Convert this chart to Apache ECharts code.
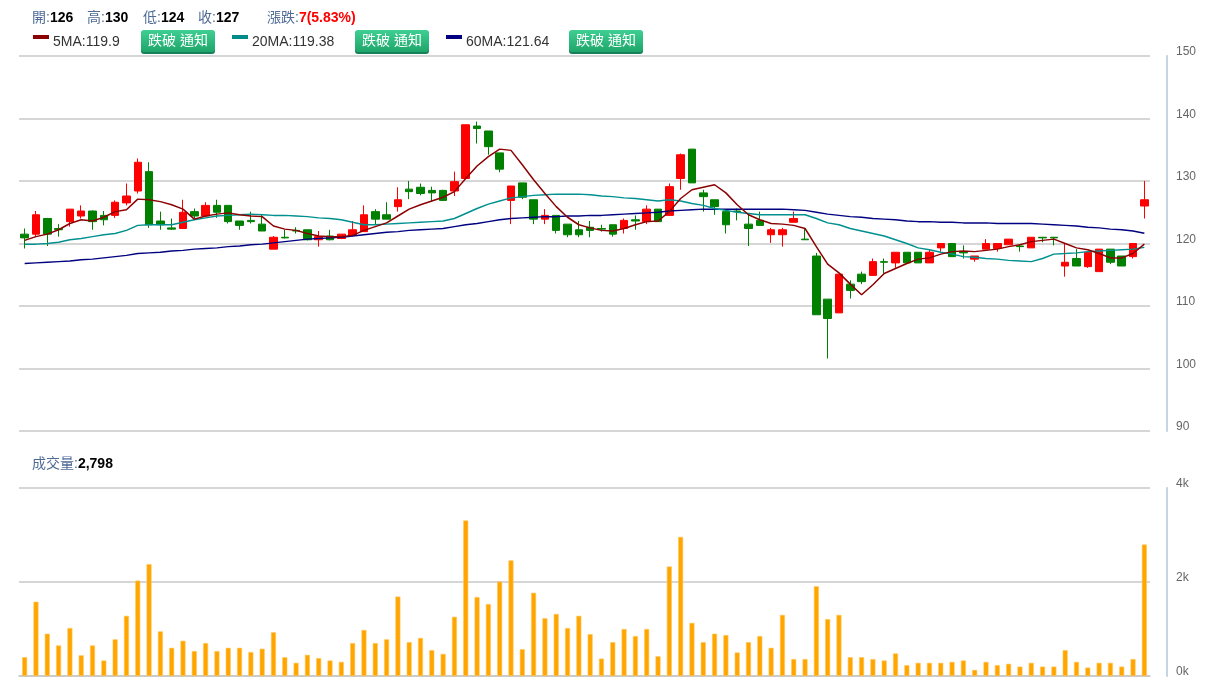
<!DOCTYPE html>
<html>
<head>
<meta charset="utf-8">
<script src="https://cdn.jsdelivr.net/npm/echarts@6/dist/echarts.min.js"></script>
<style>
html,body{margin:0;padding:0;background:#fff;}
#chart{width:1206px;height:688px;}
</style>
</head>
<body>
<div id="chart"></div>
<script>
// ---- data ----
const opens  = [121.5,121.5,124.0,122.4,123.5,124.4,125.2,124.5,124.5,126.5,
                128.4,131.5,123.6,122.5,122.4,125.1,124.4,126.1,126.1,123.6,
                123.7,123.1,119.1,121.0,122.1,122.2,120.6,121.2,120.8,121.3,
                121.9,125.1,124.6,125.9,128.7,129.0,128.5,128.5,128.4,130.4,
                138.8,138.0,134.5,126.9,129.7,127.0,123.9,124.5,123.1,122.2,
                122.6,122.4,123.0,122.4,123.8,123.5,125.5,124.5,130.4,135.1,
                128.1,127.0,125.1,125.2,123.1,123.7,121.4,121.4,123.4,120.7,
                118.0,111.1,108.9,113.5,115.1,114.9,117.1,116.9,118.6,118.6,
                116.9,119.3,120.0,118.6,117.5,119.1,119.2,119.8,119.6,119.3,
                121.0,121.0,116.4,117.6,116.3,115.5,119.1,118.0,117.9,126.0];
const closes = [120.9,124.6,121.5,122.2,125.5,125.2,123.5,123.8,126.6,127.6,
                133.0,123.0,123.0,122.3,125.0,124.4,126.1,125.0,123.5,122.9,
                123.5,122.0,121.0,120.9,122.0,120.6,121.1,120.6,121.5,122.2,
                124.6,123.9,123.9,127.0,128.3,128.0,128.1,126.9,129.9,139.0,
                138.4,135.5,131.9,129.2,127.4,123.9,124.5,122.1,121.4,121.4,
                122.1,122.3,121.5,123.7,123.6,125.5,123.5,129.1,134.2,129.7,
                127.5,125.9,123.0,125.1,122.4,122.9,122.2,122.2,124.0,120.6,
                108.6,108.0,115.1,112.5,113.9,117.1,117.0,118.6,116.9,116.9,
                118.6,120.0,117.9,118.5,118.0,120.0,120.0,120.7,119.5,121.0,
                120.9,120.9,117.0,116.4,118.6,119.1,117.0,116.4,120.0,127.0];
const lows   = [119.2,121.1,119.6,121.1,122.7,124.0,122.2,122.9,124.1,126.1,
                128.0,122.5,122.2,122.2,122.4,124.0,124.2,124.1,123.2,122.2,
                123.2,122.0,119.1,120.8,121.6,120.5,119.5,120.5,120.7,121.1,
                121.9,123.1,123.9,125.1,127.1,127.7,126.7,126.8,127.6,130.4,
                136.0,134.2,131.4,123.1,127.1,123.1,123.1,121.6,121.0,121.0,
                121.0,121.9,121.1,121.6,122.2,123.1,123.5,124.4,128.6,129.7,
                125.1,124.6,121.6,123.7,119.6,122.8,120.1,119.5,123.4,120.6,
                108.6,101.6,108.9,111.2,113.5,114.9,115.2,116.1,116.9,116.9,
                116.9,118.7,117.9,117.6,117.1,119.1,118.7,119.8,118.7,119.3,
                120.2,119.7,114.7,116.4,116.1,115.5,116.7,116.4,117.6,124.0];
const highs  = [122.4,125.2,124.1,123.1,125.5,126.1,125.3,125.2,126.9,129.6,
                133.6,133.0,125.1,124.0,127.0,125.6,126.6,127.0,126.1,123.6,
                125.1,124.6,121.2,122.2,122.6,122.2,122.0,122.2,121.5,123.6,
                126.1,125.5,126.6,129.0,130.0,129.6,129.1,128.6,131.5,139.0,
                139.5,138.0,134.5,129.2,129.7,127.0,125.5,124.5,123.1,123.6,
                123.6,123.0,123.0,124.0,124.5,126.1,125.5,129.6,134.4,135.1,
                128.6,127.0,125.1,125.6,124.7,125.1,122.5,122.5,125.1,122.4,
                118.5,111.1,115.1,114.1,115.5,117.6,117.6,118.6,118.6,118.6,
                119.1,120.0,120.0,119.7,118.0,120.7,120.0,120.7,119.9,121.0,
                121.0,121.0,120.0,119.1,118.6,119.1,119.1,118.0,120.0,130.0];
const volumes = [400,1580,900,650,1020,440,650,330,780,1280,
                 2030,2380,950,600,750,530,700,530,600,600,
                 510,580,930,400,280,450,380,330,300,700,
                 980,700,780,1690,720,810,550,470,1260,3310,
                 1680,1530,2010,2460,570,1770,1230,1320,1020,1280,
                 890,370,720,1000,850,1000,420,2330,2960,1130,
                 720,900,870,500,720,850,600,1300,360,360,
                 1910,1210,1300,400,400,360,330,480,230,280,
                 280,280,300,330,130,300,230,260,200,280,
                 200,200,550,300,180,280,280,200,360,2798];
const ma5 = [120.5,121.1,121.5,122.2,123.2,123.8,123.6,124.2,125.1,125.4,
             127.1,127.0,126.7,126.2,125.5,123.9,124.4,124.7,124.9,124.6,
             124.4,124.3,122.8,122.3,122.1,121.6,121.2,121.1,121.1,121.3,
             122.1,122.7,123.3,124.4,125.5,126.2,126.8,127.4,128.3,130.4,
             132.4,133.9,135.1,134.9,132.6,130.2,128.0,125.9,124.2,123.0,
             122.5,122.1,122.0,122.4,123.0,123.5,123.6,125.1,127.2,128.6,
             129.0,129.4,128.1,126.2,124.6,123.8,123.2,123.1,122.9,122.4,
             119.5,116.7,115.3,113.5,111.8,113.4,115.2,116.0,116.8,117.5,
             117.7,118.3,118.7,118.8,118.7,118.9,119.1,119.5,119.8,120.3,
             120.5,120.7,120.0,119.3,119.0,118.4,117.7,117.7,118.4,119.9];
const ma20 = [119.9,119.9,120.0,120.2,120.6,120.8,121.1,121.4,121.6,122.1,
              122.9,123.0,123.0,123.0,123.4,123.8,124.1,124.4,124.5,124.6,
              124.7,124.6,124.5,124.5,124.4,124.3,124.1,124.0,123.8,123.4,
              123.0,123.0,123.1,123.2,123.3,123.4,123.5,123.6,124.0,124.8,
              125.6,126.3,126.8,127.3,127.5,127.7,127.8,127.9,127.9,127.9,
              127.8,127.6,127.5,127.3,127.2,127.0,126.8,127.0,126.8,126.4,
              126.1,125.6,125.3,125.0,124.8,124.6,124.6,124.6,124.6,124.6,
              124.0,123.3,123.0,122.4,122.0,121.6,121.2,120.6,120.0,119.3,
              119.0,118.6,118.3,117.9,117.8,117.6,117.5,117.3,117.2,117.1,
              117.6,118.3,118.4,118.5,118.7,118.8,118.9,119.0,119.1,119.38];
const ma60 = [116.8,116.9,117.0,117.1,117.2,117.4,117.5,117.7,117.9,118.1,
              118.4,118.5,118.6,118.8,118.9,119.1,119.2,119.3,119.5,119.6,
              119.8,119.9,120.1,120.3,120.5,120.7,120.8,120.9,121.0,121.2,
              121.4,121.6,121.8,121.9,122.1,122.2,122.3,122.4,122.7,123.0,
              123.2,123.5,123.8,124.0,124.1,124.2,124.3,124.3,124.4,124.4,
              124.5,124.5,124.6,124.7,124.8,124.9,125.0,125.2,125.3,125.4,
              125.5,125.5,125.5,125.5,125.5,125.5,125.5,125.5,125.4,125.3,
              125.0,124.7,124.5,124.3,124.2,124.0,123.9,123.8,123.6,123.5,
              123.5,123.4,123.4,123.3,123.3,123.3,123.2,123.2,123.2,123.2,
              123.1,123.0,122.9,122.8,122.6,122.5,122.3,122.2,122.0,121.64];
const priceTicks = {min: 90, max: 150, step: 10};
const volTicks = {min: 0, max: 4000, step: 2000};
const days = opens.map((_, i) => 'D' + (i + 1));

const header = {open: '126', high: '130', low: '124', close: '127', change: '7(5.83%)'};
const maLabels = ['5MA:119.9', '20MA:119.38', '60MA:121.64'];
const volLabel = '2,798';

// ---- chart ----
const FONT = 'Arial, "Liberation Sans", "Noto Sans CJK TC", sans-serif';
const UP = '#ff0000', DOWN = '#008000';
const kData = opens.map((o, i) => [o, closes[i], lows[i], highs[i]]);

const labelRich = {
  l: {fill: '#4f6b96', color: '#4f6b96', fontSize: 14, fontFamily: FONT},
  v: {fill: '#000', color: '#000', fontSize: 14, fontWeight: 'bold', fontFamily: FONT},
  r: {fill: '#ff0000', color: '#ff0000', fontSize: 14, fontWeight: 'bold', fontFamily: FONT}
};
function richText(x, y, text) {
  return {type: 'text', x: x, y: y, z: 10,
    style: {text: text, rich: labelRich, textVerticalAlign: 'middle', verticalAlign: 'middle'}};
}
function button(x) {
  return {type: 'group', x: x, y: 30, z: 10, children: [
    {type: 'rect', shape: {x: 0, y: 1, width: 74, height: 23, r: 3}, style: {fill: '#17805a'}},
    {type: 'rect', shape: {x: 0, y: 0, width: 74, height: 22, r: 3},
     style: {fill: new echarts.graphic.LinearGradient(0, 0, 0, 1, [
        {offset: 0, color: '#3fcf93'}, {offset: 1, color: '#1ea56a'}])}},
    {type: 'text', x: 37, y: 11, style: {text: '跌破 通知', fill: '#fff',
      font: '14px ' + FONT, textAlign: 'center', textVerticalAlign: 'middle', verticalAlign: 'middle', align: 'center'}}
  ]};
}
function legendItem(x, color, text) {
  return {type: 'group', x: x, y: 0, z: 10, children: [
    {type: 'rect', shape: {x: 0, y: 35, width: 16, height: 4}, style: {fill: color}},
    {type: 'text', x: 20, y: 42, style: {text: text, fill: '#333', font: '14px ' + FONT,
      textVerticalAlign: 'middle', verticalAlign: 'middle'}}
  ]};
}

const chart = echarts.init(document.getElementById('chart'), null, {renderer: 'canvas'});
const gridL = 19, gridW = 1131;
const axisLabelStyle = {color: '#666', fontSize: 12, margin: 9, fontFamily: FONT,
  verticalAlign: 'bottom', lineHeight: 8};
chart.setOption({
  animation: false,
  backgroundColor: '#fff',
  textStyle: {fontFamily: FONT},
  grid: [
    {left: gridL, width: gridW, top: 56, height: 375},
    {left: gridL, width: gridW, top: 488, height: 188}
  ],
  xAxis: [
    {type: 'category', gridIndex: 0, data: days, boundaryGap: true,
     axisLine: {show: false}, axisTick: {show: false}, axisLabel: {show: false}, splitLine: {show: false}},
    {type: 'category', gridIndex: 1, data: days, boundaryGap: true,
     axisLine: {show: true, lineStyle: {color: '#c8c8c8', width: 1.5}}, axisTick: {show: false},
     axisLabel: {show: false}, splitLine: {show: false}}
  ],
  yAxis: [
    {type: 'value', gridIndex: 0, position: 'right', offset: 17,
     min: priceTicks.min, max: priceTicks.max, interval: priceTicks.step,
     axisLine: {show: true, lineStyle: {color: '#c6d4e4', width: 2}},
     axisTick: {show: false},
     axisLabel: axisLabelStyle,
     splitLine: {show: true, lineStyle: {color: '#c8c8c8', width: 1.5}}},
    {type: 'value', gridIndex: 1, position: 'right', offset: 17,
     min: volTicks.min, max: volTicks.max, interval: volTicks.step,
     axisLine: {show: true, lineStyle: {color: '#c6d4e4', width: 2}},
     axisTick: {show: false},
     axisLabel: Object.assign({}, axisLabelStyle, {formatter: v => (v / 1000) + 'k'}),
     splitLine: {show: true, lineStyle: {color: '#c8c8c8', width: 1.5}}}
  ],
  series: [
    {type: 'candlestick', xAxisIndex: 0, yAxisIndex: 0, data: kData, barWidth: 8, z: 2,
     itemStyle: {color: UP, color0: DOWN, borderColor: UP, borderColor0: DOWN, borderWidth: 1}},
    {type: 'line', xAxisIndex: 0, yAxisIndex: 0, data: ma60, symbol: 'none', z: 3,
     lineStyle: {color: '#000080', width: 1.5}},
    {type: 'line', xAxisIndex: 0, yAxisIndex: 0, data: ma20, symbol: 'none', z: 3,
     lineStyle: {color: '#009090', width: 1.5}},
    {type: 'line', xAxisIndex: 0, yAxisIndex: 0, data: ma5, symbol: 'none', z: 4,
     lineStyle: {color: '#8b0000', width: 1.5}},
    {type: 'bar', xAxisIndex: 1, yAxisIndex: 1, data: volumes, barWidth: 5, z: 2,
     itemStyle: {color: '#ffa500', borderColor: '#ffc85a', borderWidth: 0.6}}
  ],
  graphic: [
    richText(32, 18, '{l|開:}{v|' + header.open + '}'),
    richText(87, 18, '{l|高:}{v|' + header.high + '}'),
    richText(143, 18, '{l|低:}{v|' + header.low + '}'),
    richText(198, 18, '{l|收:}{v|' + header.close + '}'),
    richText(267, 18, '{l|漲跌:}{r|' + header.change + '}'),
    legendItem(33, '#8b0000', maLabels[0]),
    button(141),
    legendItem(232, '#008b8b', maLabels[1]),
    button(355),
    legendItem(446, '#000080', maLabels[2]),
    button(569),
    richText(32, 464, '{l|成交量:}{v|' + volLabel + '}')
  ]
});
</script>
</body>
</html>
